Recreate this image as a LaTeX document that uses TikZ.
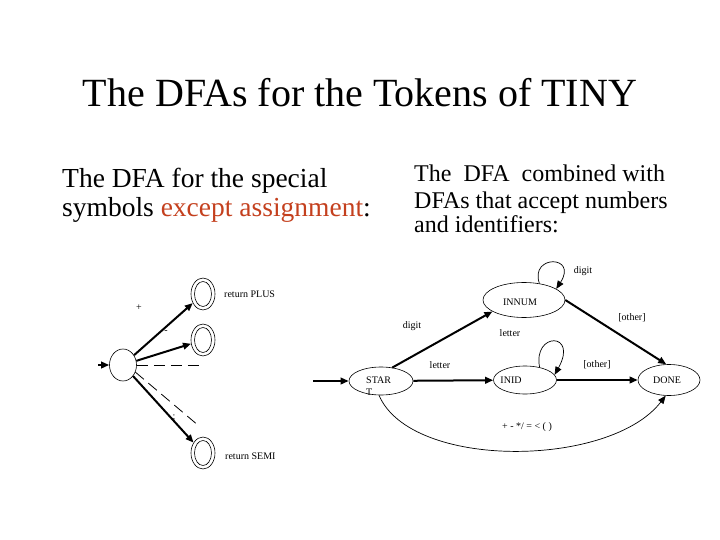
\documentclass[tikz,border=0pt]{standalone}
\usepackage{fontspec}
\setmainfont{Liberation Serif}
\usetikzlibrary{arrows.meta,shapes.geometric}
\definecolor{accent}{RGB}{196,64,30}
\begin{document}
\begin{tikzpicture}[x=1pt,y=-1pt,
  st/.style={draw,ellipse,line width=0.6pt,inner sep=0pt},
  accout/.style={draw,ellipse,line width=0.6pt,inner sep=0pt,minimum width=24pt,minimum height=32pt},
  accin/.style={draw,ellipse,line width=0.6pt,inner sep=0pt,minimum width=17pt,minimum height=25pt},
  tr/.style={line width=2pt,-{Triangle[length=8pt,width=6.5pt]}},
  thin/.style={line width=0.7pt,-{Triangle[length=8pt,width=6.5pt]}},
  dsh/.style={line width=0.8pt,dash pattern=on 11pt off 6pt},
  lbl/.style={font=\fontsize{10}{12}\selectfont,inner sep=0pt},
]
\useasboundingbox (0,0) rectangle (720,540);

% headings
\node[anchor=base,inner sep=0pt,font=\fontsize{40}{44}\selectfont] (title) at (360,107) {The DFAs for the Tokens of TINY};
\node[anchor=base west,inner sep=0pt,font=\fontsize{27.5}{29}\selectfont] (lt1) at (62,188) {The DFA for the special};
\node[anchor=base west,inner sep=0pt,font=\fontsize{27.5}{29}\selectfont] (lt2) at (62,217) {symbols \textcolor{accent}{except assignment}:};
\node[anchor=base west,inner sep=0pt,font=\fontsize{24}{26}\selectfont] (rt1) at (414,182) {The\ \ DFA\ \ combined with};
\node[anchor=base west,inner sep=0pt,font=\fontsize{24}{26}\selectfont] (rt2) at (414,208) {DFAs that accept numbers};
\node[anchor=base west,inner sep=0pt,font=\fontsize{24}{26}\selectfont] (rt3) at (414,233) {and identifiers:};

% ---------- left DFA ----------
\node[st,minimum width=27pt,minimum height=32pt] (s0) at (123,365) {};
\node[accout] (plus) at (203,294) {};
\node[accin] (plusin) at (203,294) {};
\node[accout] (minus) at (203,340) {};
\node[accin] (minusin) at (203,340) {};
\node[accout] (semi) at (203,453) {};
\node[accin] (semiin) at (203,453) {};
\coordinate (in0) at (98,365);
\coordinate (dh) at (202,365);
\coordinate (dd) at (199,426);

\draw[tr] (in0) -- (s0);
\draw[tr] (s0) -- (plus);
\draw[tr] (s0) -- (minus);
\draw[tr] (s0) -- (semi);
\draw[dsh] (s0.east) -- (dh);
\draw[dsh] (s0.-30) -- (dd);

\node[lbl] (lplus) at (139,308) {+};
\node[lbl] (lminus) at (166,332) {-};
\node[lbl] (lsemi) at (174,418) {;};
\node[lbl,anchor=west] (rplus) at (224,294) {return PLUS};
\node[lbl,anchor=west] (rsemi) at (225,456) {return SEMI};

% ---------- right DFA ----------
\node[st,minimum width=64pt,minimum height=28pt] (start) at (381,381) {};
\node[st,minimum width=63pt,minimum height=28pt] (inid) at (525,380) {};
\node[st,minimum width=62pt,minimum height=31pt] (done) at (669,380) {};
\node[st,minimum width=82pt,minimum height=35pt] (innum) at (524,300) {};
\node[lbl,align=left,anchor=west] (starttxt) at (366,386) {STAR\\T};
\node[lbl] (inidtxt) at (511,380) {INID};
\node[lbl] (donetxt) at (667,380) {DONE};
\node[lbl] (innumtxt) at (520,302) {INNUM};
\coordinate (in1) at (313,381);

\draw[tr] (in1) -- (start);
\draw[tr] (start.50) -- (innum.200);
\draw[tr] (innum.east) -- (done.100);
\draw[tr] (start) -- (inid);
\draw[tr] (inid) -- (done);
\draw[thin] (innum.47) .. controls +(-10,-29) and +(22,-34) .. (innum.19);
\draw[thin] (inid.41) .. controls +(-7,-35.5) and +(24,-43) .. (inid.10);
\draw[thin] (start.262) .. controls (411,470) and (610,468) .. (done.258);

\node[lbl] (ldig1) at (583,271) {digit};
\node[lbl] (ldig2) at (412,326) {digit};
\node[lbl] (llet1) at (510,333) {letter};
\node[lbl] (llet2) at (440,365) {letter};
\node[lbl] (loth1) at (632,318) {[other]};
\node[lbl] (loth2) at (597,365) {[other]};
\node[lbl] (lops) at (527,427) {+ - */ = < ( )};
\end{tikzpicture}
\end{document}
